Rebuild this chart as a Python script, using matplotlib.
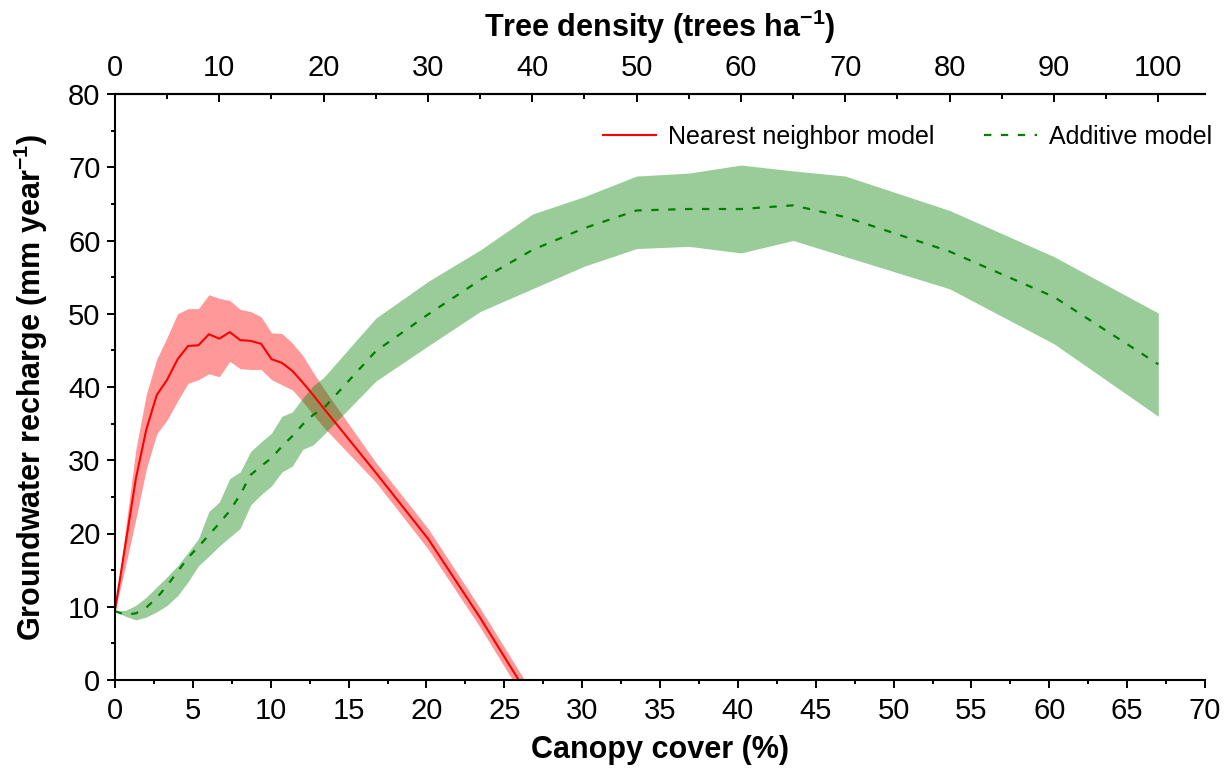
import matplotlib
matplotlib.use("Agg")
import matplotlib.pyplot as plt
from matplotlib.ticker import MultipleLocator
from matplotlib.lines import Line2D

plt.rcParams['font.family'] = ['Liberation Sans', 'DejaVu Sans']
plt.rcParams['mathtext.fontset'] = 'custom'
plt.rcParams['mathtext.rm'] = 'Liberation Sans'
plt.rcParams['mathtext.bf'] = 'Liberation Sans:bold'

# ---------------- data ----------------
# Nearest neighbor model (canopy cover %, recharge mm/yr)
nn_cover = [0, 0.67, 1.34, 2.01, 2.68, 3.35, 4.02, 4.69, 5.36, 6.03, 6.70, 7.37,
            8.04, 8.71, 9.38, 10.05, 10.72, 11.39, 12.06, 12.73, 13.40,
            16.75, 20.10, 23.45, 26.80]
nn_mean = [9.5, 18.5, 27.5, 34.2, 38.9, 41.0, 43.8, 45.6, 45.7, 47.2, 46.6, 47.5,
           46.4, 46.3, 45.9, 43.8, 43.3, 42.2, 40.6, 38.9, 37.1,
           28.3, 19.3, 8.5, -3.0]
nn_upper = [9.5, 20.5, 31.5, 39.0, 43.8, 46.8, 50.0, 50.7, 50.7, 52.6, 52.1, 51.8,
            50.6, 50.3, 49.6, 47.4, 47.3, 46.0, 44.3, 42.0, 39.8,
            29.7, 20.7, 9.8, -1.7]
nn_lower = [9.5, 15.5, 22.0, 28.8, 33.6, 35.5, 38.1, 40.5, 41.0, 41.8, 41.4, 43.5,
            42.5, 42.4, 42.4, 41.0, 40.3, 39.6, 38.0, 36.2, 34.5,
            27.0, 17.9, 7.2, -4.4]

# Additive model
add_cover = [0, 0.67, 1.34, 2.01, 2.68, 3.35, 4.02, 4.69, 5.36, 6.03, 6.70, 7.37,
             8.04, 8.71, 9.38, 10.05, 10.72, 11.39, 12.06, 12.73, 13.40,
             16.75, 20.10, 23.45, 26.80, 30.15, 33.50, 36.85, 40.20, 43.55, 46.90,
             53.60, 60.30, 67.00]
add_mean = [9.4, 8.9, 9.1, 9.9, 11.2, 12.9, 14.8, 16.7, 18.2, 19.8, 21.4, 23.1,
            25.3, 28.0, 29.2, 30.3, 31.9, 33.3, 34.9, 36.2, 37.1,
            44.9, 49.9, 54.6, 58.7, 61.7, 64.1, 64.3, 64.3, 64.8, 63.2,
            58.5, 52.3, 43.1]
add_upper = [9.4, 9.5, 10.2, 11.3, 12.7, 14.1, 15.6, 17.4, 19.3, 23.0, 24.3, 27.5,
             28.4, 31.2, 32.5, 33.7, 36.0, 36.6, 38.5, 40.2, 41.3,
             49.4, 54.4, 58.7, 63.6, 66.0, 68.8, 69.2, 70.3, 69.5, 68.8,
             64.1, 57.8, 50.1]
add_lower = [9.4, 8.7, 8.2, 8.6, 9.3, 10.2, 11.5, 13.4, 15.6, 16.9, 18.3, 19.5,
             20.7, 23.9, 25.3, 26.5, 28.4, 29.2, 31.5, 32.1, 33.5,
             40.8, 45.6, 50.3, 53.4, 56.5, 58.9, 59.2, 58.3, 60.0, 57.8,
             53.4, 45.9, 36.0]

cover_per_tree = 0.67          # canopy cover (%) per tree ha-1 (top axis scale)
x_ticks_bottom = list(range(0, 71, 5))
x_ticks_top = list(range(0, 101, 10))
y_ticks = list(range(0, 81, 10))

# ---------------- figure ----------------
fig = plt.figure(figsize=(12.28, 7.71), dpi=100)
ax = fig.add_axes([115 / 1228, 91 / 771, 1090 / 1228, 586 / 771])

ax.fill_between(nn_cover, nn_lower, nn_upper, color='#ff0000', alpha=0.4, lw=0)
ax.fill_between(add_cover, add_lower, add_upper, color='#008000', alpha=0.4, lw=0)
ax.plot(nn_cover, nn_mean, color='#ff0000', lw=1.5)
ax.plot(add_cover, add_mean, color='#008000', lw=1.6, linestyle=(0, (3.3, 4.3)))

ax.set_xlim(0, 70)
ax.set_ylim(0, 80)
ax.set_xticks(x_ticks_bottom)
ax.set_yticks(y_ticks)
ax.xaxis.set_minor_locator(MultipleLocator(2.5))
ax.yaxis.set_minor_locator(MultipleLocator(5))

for s in ['left', 'bottom', 'top']:
    ax.spines[s].set_linewidth(1.5)
ax.spines['right'].set_visible(False)

ax.tick_params(which='major', direction='out', length=5.5, width=1.4, labelsize=21)
ax.tick_params(which='minor', direction='out', length=3, width=1.4)
ax.tick_params(axis='x', which='major', pad=7)
ax.tick_params(axis='y', which='major', pad=5)
ax.tick_params(top=False, right=False, which='both')

ax.set_xlabel('Canopy cover (%)', fontsize=22, fontweight='bold', labelpad=7)
ax.set_ylabel(r'Groundwater recharge (mm year$^{\mathbf{-1}}$)', fontsize=22,
              fontweight='bold', labelpad=13)

ax2 = ax.twiny()
ax2.set_xlim(0, 70 / cover_per_tree)
ax2.set_xticks(x_ticks_top)
ax2.xaxis.set_minor_locator(MultipleLocator(5))
ax2.tick_params(which='major', direction='in', length=6, width=1.4, labelsize=21, pad=9)
ax2.tick_params(which='minor', direction='in', length=3.5, width=1.4)
for s in ['left', 'right', 'bottom']:
    ax2.spines[s].set_visible(False)
ax2.spines['top'].set_linewidth(1.5)
ax2.set_xlabel(r'Tree density (trees ha$^{\mathbf{-1}}$)', fontsize=22,
               fontweight='bold', labelpad=12)

handles = [Line2D([], [], color='#ff0000', lw=1.5),
           Line2D([], [], color='#008000', lw=1.6, linestyle=(0, (3.3, 4.3)))]
ax.legend(handles, ['Nearest neighbor model', 'Additive model'],
          loc='center left', bbox_to_anchor=(603 / 1228, 1 - 137 / 771),
          bbox_transform=fig.transFigure, ncol=2, frameon=False, fontsize=18,
          handlelength=2.1, handletextpad=0.5, columnspacing=2.0, borderpad=0,
          borderaxespad=0)

fig.savefig('out.png', dpi=100)
